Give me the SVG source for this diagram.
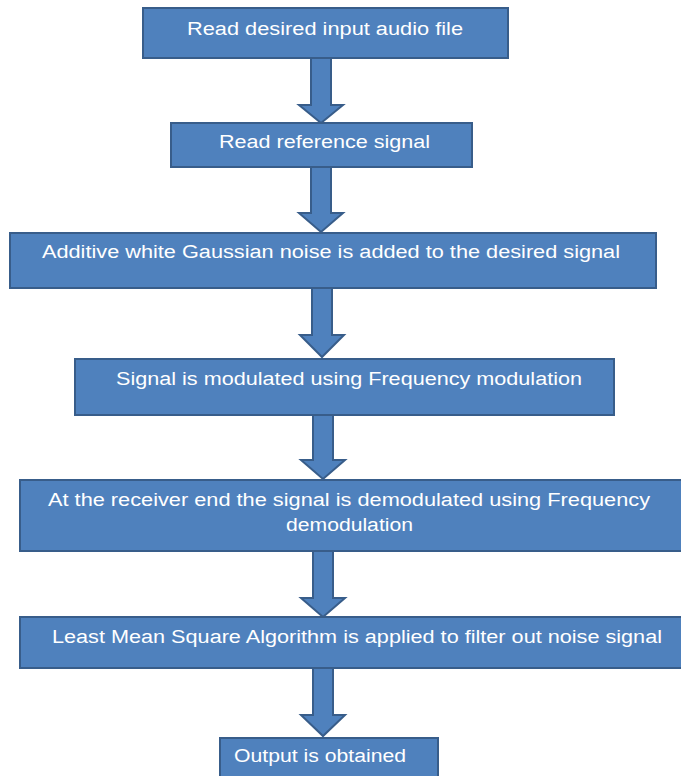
<svg xmlns="http://www.w3.org/2000/svg" width="681" height="776" viewBox="0 0 681 776">
<style>
.box{fill:#4F81BD;stroke:#385D8A;stroke-width:2}
.t{fill:#FFFFFF;font-family:"Liberation Sans",Arial,sans-serif;font-size:18px}
.arr{fill:#4F81BD;stroke:#385D8A;stroke-width:2;stroke-linejoin:miter}
</style>
<rect width="681" height="776" fill="#FFFFFF"/>
<g id="connectors">
<path class="arr" d="M311,58 L331,58 L331,105 L343,105 L321,123 L299,105 L311,105 Z"/>
<path class="arr" d="M311,167 L331,167 L331,213 L343,213 L321,232 L299,213 L311,213 Z"/>
<path class="arr" d="M312,288 L332,288 L332,335 L344,335 L322,357 L300,335 L312,335 Z"/>
<path class="arr" d="M313,415 L333,415 L333,460 L345,460 L323,479 L301,460 L313,460 Z"/>
<path class="arr" d="M313,551 L333,551 L333,598 L345,598 L323,617 L301,598 L313,598 Z"/>
<path class="arr" d="M313,668 L333,668 L333,715 L345,715 L323,736 L301,715 L313,715 Z"/>
</g>
<g id="n1"><rect class="box" x="143" y="8" width="365" height="50"/><text class="t" x="187" y="35" textLength="276" lengthAdjust="spacingAndGlyphs">Read desired input audio file</text></g>
<g id="n2"><rect class="box" x="171" y="123" width="301" height="44"/><text class="t" x="219" y="148" textLength="211" lengthAdjust="spacingAndGlyphs">Read reference signal</text></g>
<g id="n3"><rect class="box" x="10" y="233" width="646" height="55"/><text class="t" x="42" y="258" textLength="578" lengthAdjust="spacingAndGlyphs">Additive white Gaussian noise is added to the desired signal</text></g>
<g id="n4"><rect class="box" x="75" y="359" width="539" height="56"/><text class="t" x="116" y="385" textLength="466" lengthAdjust="spacingAndGlyphs">Signal is modulated using Frequency modulation</text></g>
<g id="n5"><rect class="box" x="20" y="480" width="662" height="71"/><text class="t" x="48" y="506" textLength="602" lengthAdjust="spacingAndGlyphs">At the receiver end the signal is demodulated using Frequency</text><text class="t" x="286" y="531" textLength="127" lengthAdjust="spacingAndGlyphs">demodulation</text></g>
<g id="n6"><rect class="box" x="20" y="617" width="662" height="51"/><text class="t" x="52" y="643" textLength="610" lengthAdjust="spacingAndGlyphs">Least Mean Square Algorithm is applied to filter out noise signal</text></g>
<g id="n7"><rect class="box" x="220" y="738" width="218" height="40"/><text class="t" x="234" y="762" textLength="172" lengthAdjust="spacingAndGlyphs">Output is obtained</text></g>
</svg>
